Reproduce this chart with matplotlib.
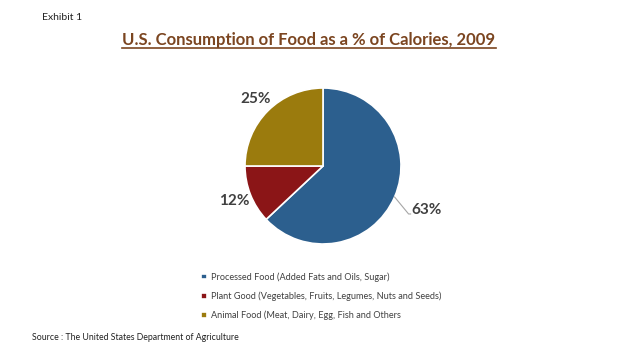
import matplotlib.pyplot as plt
import numpy as np

plt.rcParams['font.family'] = ['Lato', 'DejaVu Sans']

categories = ['Processed Food (Added Fats and Oils, Sugar)',
              'Plant Good (Vegetables, Fruits, Legumes, Nuts and Seeds)',
              'Animal Food (Meat, Dairy, Egg, Fish and Others']
shares = [63, 12, 25]
colors = ['#2c5f8e', '#8b1517', '#9b7b0d']

W, H = 624, 355
fig = plt.figure(figsize=(W / 100, H / 100), dpi=100)
ax = fig.add_axes([0, 0, 1, 1])

cx, cy, r = 323, H - 166, 78
wedges, texts = ax.pie(shares, colors=colors, startangle=90, counterclock=False,
                       center=(cx, cy), radius=r, labels=[f'{v}%' for v in shares],
                       labeldistance=1.22, frame=True,
                       wedgeprops=dict(edgecolor='white', linewidth=1.2),
                       textprops=dict(fontsize=11, fontweight='bold', color='#404040'))
ax.set_xlim(0, W)
ax.set_ylim(0, H)
ax.set_aspect('equal')
ax.axis('off')
for t in texts:
    t.set_ha('center')
    t.set_va('center')

# big slice: label further out with a leader line
w = wedges[0]
mid = np.deg2rad((w.theta1 + w.theta2) / 2)
ux, uy = np.cos(mid), np.sin(mid)
x0, y0 = cx + r * ux, cy + r * uy
ax.plot([x0, x0 + 14, x0 + 16], [y0, y0 - 17, y0 - 17], color='#a6a6a6', lw=0.8)
texts[0].set_position((x0 + 17, y0 - 13))
texts[0].set_ha('left')

fig.text(42 / W, 1 - 18 / H, 'Exhibit 1', fontsize=7.5, color='#222222', va='center')
title = fig.text(309 / W, 1 - 40 / H, 'U.S. Consumption of Food as a % of Calories, 2009',
                 fontsize=12, fontweight='bold', color='#7b4520', ha='center', va='center')
fig.canvas.draw()
bb = title.get_window_extent()
ax.plot([bb.x0, bb.x1], [H - 48, H - 48], color='#7b4520', lw=1.2)

fig.legend(wedges, categories, loc='upper left', bbox_to_anchor=(193 / W, 1 - 264 / H),
           frameon=False, fontsize=6.6, labelcolor='#404040', handlelength=0.6,
           handleheight=0.6, handletextpad=0.45, labelspacing=1.05)

fig.text(32 / W, 1 - 337 / H, 'Source : The United States Department of Agriculture',
         fontsize=6.3, color='#222222', va='center')

fig.savefig('out.png', dpi=100, facecolor='white')
